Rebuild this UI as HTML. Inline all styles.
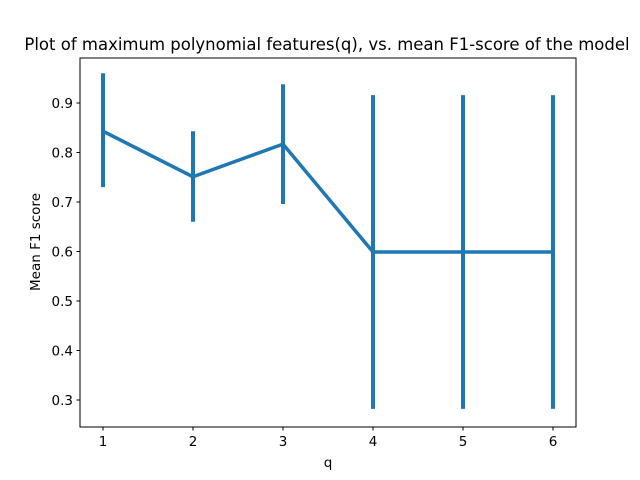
<!DOCTYPE html>
<html><head><meta charset="utf-8"><style>body{margin:0;background:#fff}svg{display:block;font-family:"DejaVu Sans","Liberation Sans",sans-serif}</style></head>
<body>
<svg id="chart" width="640" height="480">
<rect x="0" y="0" width="640" height="480" fill="#fff"/>
<text x="327" y="50" font-size="16.5" text-anchor="middle">Plot of maximum polynomial features(q), vs. mean F1-score of the model</text>
<g id="plot"></g>
<rect x="80" y="58" width="496" height="369" fill="none" stroke="#000" stroke-width="1"/>
<text x="328" y="467" font-size="13.5" text-anchor="middle">q</text>
<text transform="translate(40,242) rotate(-90)" font-size="13.5" text-anchor="middle">Mean F1 score</text>
</svg>
<script>
const categories=[1,2,3,4,5,6];
const means=[0.843,0.751,0.817,0.599,0.599,0.599];
const errLow=[0.730,0.660,0.696,0.282,0.282,0.282];
const errHigh=[0.960,0.843,0.938,0.916,0.916,0.916];
const yTicks=[0.3,0.4,0.5,0.6,0.7,0.8,0.9];
const xTicks=[1,2,3,4,5,6];
const NS="http://www.w3.org/2000/svg";
const g=document.getElementById('plot');
function xs(v){return 103+(v-1)*90;}
function ys(v){return 103+(0.9-v)*495;}
function mk(t,a){const e=document.createElementNS(NS,t);for(const k in a)e.setAttribute(k,a[k]);g.appendChild(e);return e;}
xTicks.forEach(t=>{
 const l=mk('line',{x1:xs(t),x2:xs(t),y1:427,y2:430.5,stroke:'#000'});
 
 
 const tx=mk('text',{x:xs(t),y:446,'font-size':13.5,'text-anchor':'middle'});tx.textContent=t;
 
 
});
yTicks.forEach(t=>{
 const l=mk('line',{x1:76.5,x2:80,y1:ys(t),y2:ys(t),stroke:'#000'});
 
 
 const tx=mk('text',{x:73,y:ys(t)+5,'font-size':13.5,'text-anchor':'end'});tx.textContent=t.toFixed(1);
 
 
});
categories.forEach((c,i)=>{
 const e=mk('line',{x1:xs(c),x2:xs(c),y1:ys(errLow[i]),y2:ys(errHigh[i]),stroke:'#1f77b4','stroke-width':4});
 
 
});
const p=mk('polyline',{points:categories.map((c,i)=>xs(c)+','+ys(means[i])).join(' '),fill:'none',stroke:'#1f77b4','stroke-width':3.5,'stroke-linejoin':'round'});


</script>
</body></html>
